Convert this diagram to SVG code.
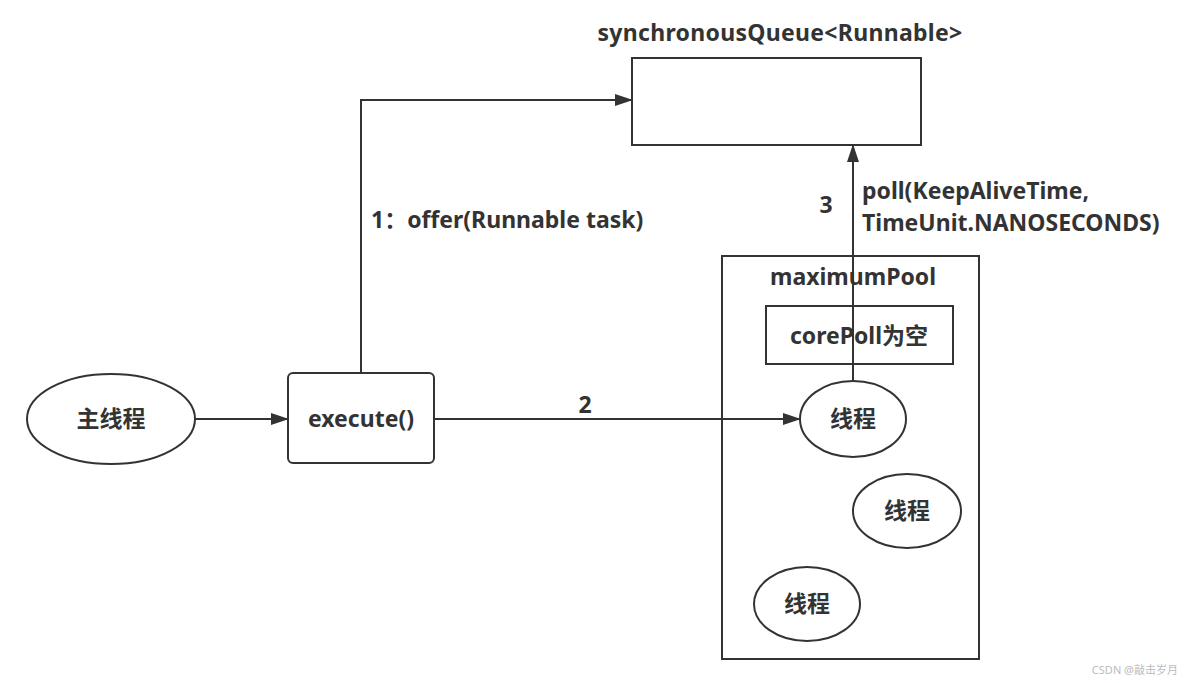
<svg xmlns="http://www.w3.org/2000/svg" width="1184" height="683" viewBox="0 0 1184 683">
<style>
.s{fill:none;stroke:#333;stroke-width:2}
.n{fill:#fff;stroke:#333;stroke-width:2}
.t{font-family:"Noto Sans","Noto Sans CJK SC",sans-serif;font-weight:bold;font-size:23px;fill:#333}
.m{text-anchor:middle}
</style>
<defs>
<marker id="b" markerWidth="18" markerHeight="12" refX="17" refY="6" orient="auto" markerUnits="userSpaceOnUse"><path d="M0,0 L18,6 L0,12 Z" fill="#333"/></marker>
</defs>
<rect width="1184" height="683" fill="#fff"/>
<g id="pool">
<rect x="722" y="256" width="257" height="403" class="n"/>
<text x="853" y="285" class="t m">maximumPool</text>
</g>
<g id="core">
<rect x="766" y="306" width="187" height="58" class="n"/>
<text x="859" y="344" class="t m">corePoll为空</text>
</g>
<g id="queue">
<rect x="632" y="58" width="289" height="87" class="n"/>
<text x="780" y="41" class="t m" letter-spacing="0.3">synchronousQueue&lt;Runnable&gt;</text>
</g>
<g id="main">
<ellipse cx="111" cy="419" rx="84" ry="45" class="n"/>
<text x="111" y="427" class="t m">主线程</text>
</g>
<g id="execute">
<rect x="288" y="373" width="146" height="90" rx="5" class="n"/>
<text x="361" y="427" class="t m">execute()</text>
</g>
<g id="connectors">
<path d="M195,419 H288" class="s" marker-end="url(#b)"/>
<path d="M361,373 V100 H632" class="s" marker-end="url(#b)"/>
<path d="M434,419 H800" class="s" marker-end="url(#b)"/>
<path d="M853,381 V145" class="s" marker-end="url(#b)"/>
<text x="371" y="228" class="t">1：offer(Runnable task)</text>
<text x="585" y="413" class="t m">2</text>
<text x="826" y="213" class="t m">3</text>
<text x="862" y="199" class="t"><tspan x="862" y="199">poll(KeepAliveTime,</tspan><tspan x="862" y="231">TimeUnit.NANOSECONDS)</tspan></text>
</g>
<g id="t1">
<ellipse cx="853" cy="419" rx="53" ry="38" class="n"/>
<text x="853" y="427" class="t m">线程</text>
</g>
<g id="t2">
<ellipse cx="907" cy="511" rx="54" ry="37" class="n"/>
<text x="907" y="519" class="t m">线程</text>
</g>
<g id="t3">
<ellipse cx="807" cy="604" rx="53" ry="37" class="n"/>
<text x="807" y="612" class="t m">线程</text>
</g>
<text x="1178" y="674" text-anchor="end" style="font-family:'Noto Sans','Noto Sans CJK SC',sans-serif;font-size:11px;fill:#bbb">CSDN @敲击岁月</text>
</svg>
